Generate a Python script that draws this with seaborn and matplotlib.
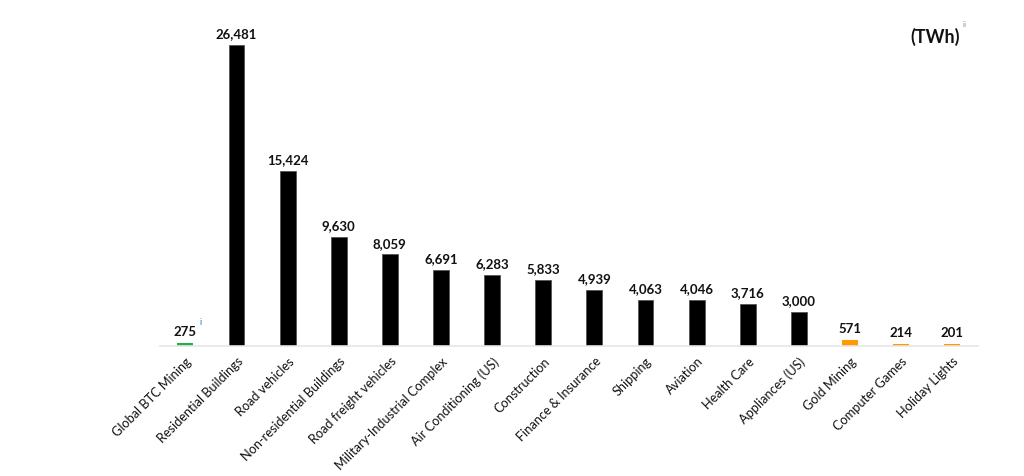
import matplotlib
matplotlib.use("Agg")
import matplotlib.pyplot as plt
import seaborn as sns
import pandas as pd

categories = ["Global BTC Mining", "Residential Buildings", "Road vehicles",
              "Non-residential Buildings", "Road freight vehicles",
              "Military-Industrial Complex", "Air Conditioning (US)", "Construction",
              "Finance & Insurance", "Shipping", "Aviation", "Health Care",
              "Appliances (US)", "Gold Mining", "Computer Games", "Holiday Lights"]
values = [275, 26481, 15424, 9630, 8059, 6691, 6283, 5833, 4939, 4063, 4046,
          3716, 3000, 571, 214, 201]
groups = ["btc"] + ["big"] * 12 + ["small"] * 3
palette_map = {"btc": "#21b04b", "big": "#000000", "small": "#ff9900"}

sns.set_theme(style="white")
plt.rcParams['font.family'] = ['Lato', 'DejaVu Sans']

df = pd.DataFrame({"cat": categories, "val": values, "grp": groups})

fig = plt.figure(figsize=(10.24, 4.77), dpi=100)
ax = fig.add_axes([0.156, 0.2725, 0.799, 0.715])
sns.barplot(data=df, x="cat", y="val", hue="grp", palette=palette_map,
            dodge=False, legend=False, width=0.31, ax=ax, saturation=1,
            linewidth=0)
for p in ax.patches:
    if p.get_facecolor()[:3] == (0.0, 0.0, 0.0):
        p.set_edgecolor("#555555")
        p.set_linewidth(0.6)
ax.set_ylim(0, 30000)
ax.set_xlim(-0.5, len(categories) - 0.5)
for s in ["top", "right", "left"]:
    ax.spines[s].set_visible(False)
ax.spines["bottom"].set_color("#e6e6e6")
ax.spines["bottom"].set_linewidth(1.2)
ax.set_yticks([])
ax.set_xlabel("")
ax.set_ylabel("")
ax.tick_params(axis="x", length=0, pad=6)
ax.set_xticks(range(len(categories)))
ax.set_xticklabels(categories, rotation=45, ha="right", rotation_mode="anchor",
                   fontsize=9.2, color="#111111")

for i, v in enumerate(values):
    ax.annotate(f"{v:,}", (i, v), xytext=(0, 4), textcoords="offset points",
                ha="center", va="bottom", fontsize=9.5, fontweight="bold",
                color="#111111")
ax.annotate("i", (0, values[0]), xytext=(11, 12), textcoords="offset points",
            ha="center", va="bottom", fontsize=6.5, color="#2e75b6")

fig.text(0.913, 0.922, "(TWh)", ha="center", va="center", fontsize=13,
         fontweight="bold", color="#111111")
fig.text(0.942, 0.948, "ii", ha="center", va="center", fontsize=6,
         color="#888888")

fig.savefig("out.png", dpi=100)
